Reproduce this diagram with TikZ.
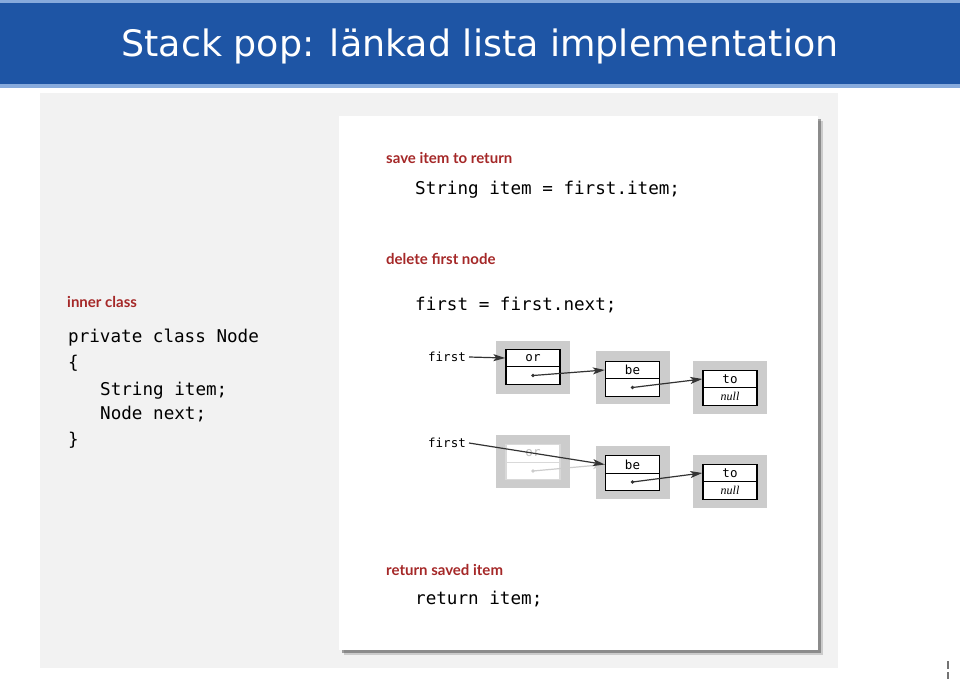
\documentclass[tikz,border=0pt]{standalone}
\usepackage{fontspec}
\newfontfamily\titlefont{DejaVu Sans}
\newfontfamily\codefont{DejaVu Sans Mono}
\newfontfamily\notefont{Lato}
\newfontfamily\nullitfont{Liberation Serif}
\usetikzlibrary{arrows.meta,shadows}
\definecolor{barblue}{RGB}{30,85,165}
\definecolor{barline}{RGB}{135,170,220}
\definecolor{notered}{RGB}{165,40,40}
\definecolor{panelgray}{RGB}{242,242,242}
\tikzset{
  cell/.style={draw,line width=1.4pt,fill=white,minimum width=54pt,minimum height=17.5pt,inner sep=0pt,font=\codefont\fontsize{12.5}{13}\selectfont},
  back/.style={fill=black!20,minimum width=74pt,minimum height=53pt,inner sep=0pt},
  ptr/.style={line width=1.2pt,black!80,-{Stealth[length=12pt,width=7pt,inset=3pt]}},
  note/.style={anchor=base west,inner sep=0pt,text=notered,font=\notefont\bfseries\fontsize{15}{17}\selectfont},
  code/.style={anchor=base west,inner sep=0pt,font=\codefont\fontsize{17.6}{20}\selectfont},
  lbl/.style={anchor=east,inner sep=0pt,font=\codefont\fontsize{12.5}{14}\selectfont}
}
\begin{document}
\begin{tikzpicture}[x=1pt,y=-1pt]
\useasboundingbox (0,0) rectangle (960,679);
\fill[barline] (0,0) rectangle (960,3);
\fill[barblue] (0,3) rectangle (960,84);
\fill[barline] (0,84) rectangle (960,88);
\node[font=\titlefont\fontsize{36.4}{40}\selectfont,text=white,anchor=base] (title) at (480,57) {Stack pop: länkad lista implementation};
\fill[panelgray] (40,93) rectangle (838,668);
\path[fill=white,drop shadow={shadow xshift=5pt,shadow yshift=-5pt,fill=black!35},drop shadow={shadow xshift=3pt,shadow yshift=-3pt,fill=black!70}] (339,116) rectangle (818,650);

\node[note] (inner) at (67,307) {inner class};
\node[code] (cls) at (68,342) {private class Node};
\node[code] (open) at (68,368) {\{};
\node[code] (item) at (100,395) {String item;};
\node[code] (next) at (100,419) {Node next;};
\node[code] (close) at (68,445) {\}};

\node[note] (save) at (386,164) {save item to return};
\node[code] (savecode) at (415,194) {String item = first.item;};
\node[note] (delete) at (386,264) {delete first node};
\node[code] (delcode) at (415,310) {first = first.next;};
\node[note] (ret) at (386,575) {return saved item};
\node[code] (retcode) at (415,604) {return item;};

\node[back] (bkor1) at (533,367) {};
\node[back] (bkbe1) at (632.5,377) {};
\node[back] (bkto1) at (730,387) {};
\node[cell] (or1) at (533,358) {or};
\node[cell] (or1n) at (533,375.5) {};
\node[cell] (be1) at (632.5,370) {be};
\node[cell] (be1n) at (632.5,387.5) {};
\node[cell] (to1) at (730,379) {to};
\node[cell,font=\nullitfont\itshape\fontsize{12}{13}\selectfont] (to1n) at (730,396.5) {null};
\node[lbl] (first1) at (466,357) {first};

\node[back] (bkor2) at (533,461) {};
\node[back] (bkbe2) at (632.5,472) {};
\node[back] (bkto2) at (730,481) {};
\node[cell,draw=black!15,text=black!25] (or2) at (533,453.5) {or};
\node[cell,draw=black!15] (or2n) at (533,471) {};
\node[cell] (be2) at (632.5,464.5) {be};
\node[cell] (be2n) at (632.5,482) {};
\node[cell] (to2) at (730,473) {to};
\node[cell,font=\nullitfont\itshape\fontsize{12}{13}\selectfont] (to2n) at (730,490.5) {null};
\node[lbl] (first2) at (466,443) {first};

\draw[ptr] (first1.east) ++(3,0) -- (or1.west);
\fill[black!80] (or1n.center) circle (1.8pt);
\draw[ptr] (or1n.center) -- (be1.west);
\fill[black!80] (be1n.center) circle (1.8pt);
\draw[ptr] (be1n.center) -- (to1.west);

\fill[black!20] (or2n.center) circle (1.8pt);
\draw[ptr,black!20] (or2n.center) -- (be2.west);
\draw[ptr] (first2.east) ++(3,0) -- (be2.west);
\fill[black!80] (be2n.center) circle (1.8pt);
\draw[ptr] (be2n.center) -- (to2.west);

\fill[black!55] (947,661) rectangle (949,669);
\fill[black!55] (947,672) rectangle (949,679);
\end{tikzpicture}
\end{document}
